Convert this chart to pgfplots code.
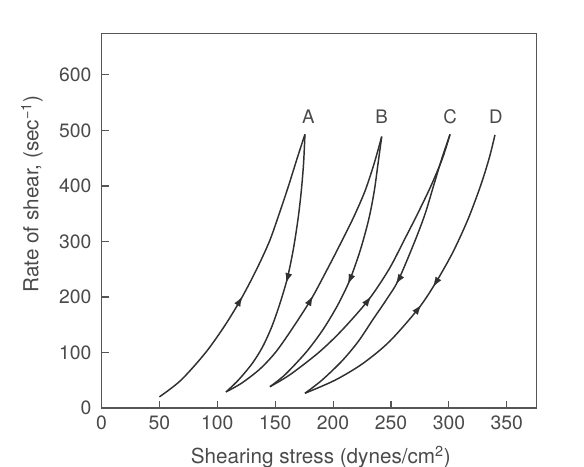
\documentclass[border=0pt]{standalone}
\usepackage{pgfplots}
\pgfplotsset{compat=1.18}
\usetikzlibrary{arrows.meta}
\usepackage{fontspec}
\setmainfont{TeX Gyre Heros}
\definecolor{txt}{HTML}{4A4A4A}
\definecolor{ln}{HTML}{303030}
\definecolor{ax}{HTML}{555555}
\begin{document}
\begin{tikzpicture}
\begin{axis}[
  scale only axis, width=326.4pt, height=281pt,
  xmin=0, xmax=375.8, ymin=0, ymax=675,
  clip=false,
  axis line style={ax, line width=0.9pt},
  tick style={ax, line width=0.8pt},
  xtick={0,50,...,350}, ytick={0,100,...,600},
  xtick pos=bottom, ytick pos=left,
  tick align=inside, major tick length=5.5pt,
  /pgf/number format/assume math mode=true,
  tick label style={text=txt, font=\fontsize{14.5}{17}\selectfont},
  yticklabel style={anchor=east, inner sep=0pt, xshift=-7.3pt},
  xticklabel style={anchor=north, inner sep=0pt, yshift=-5.6pt},
  label style={text=txt, font=\fontsize{15.5}{18}\selectfont},
  xlabel={Shearing stress (dynes/cm\textsuperscript{2})},
  ylabel={Rate of shear, (sec\textsuperscript{−1})},
  xlabel style={at={(axis description cs:0.504,-0.147)}, anchor=base},
  ylabel style={at={(axis description cs:-0.160,0.571)}, anchor=center},
  curve/.style={ln, line width=1.1pt, smooth},
  arr/.style={ln, line width=0.1pt, -{Latex[length=7pt,width=5pt]}},
]
% A up
\addplot[curve] coordinates {(50,20) (68.6,50) (90,100) (107,150) (121.5,200) (134,250) (145,300) (153.5,350) (161.5,400) (169,450) (175.7,493)};
% A down
\addplot[curve] coordinates {(175.7,493) (174.5,440) (172.5,390) (169.7,340) (165.6,285) (160.3,232) (153.6,185) (146.8,145) (139.1,110) (130.1,80) (118.1,50) (107.6,29)};
% B up
\addplot[curve] coordinates {(107.6,29) (121.2,45) (136.7,70) (150.2,100) (163.8,140) (180.8,195) (192.5,240) (203.7,285) (216.9,340) (227.4,390) (235.4,440) (242,489)};
% B down
\addplot[curve] coordinates {(242,489) (238.8,440) (235.5,390) (230.8,340) (223.6,285) (214.3,230) (203.9,185) (190.9,140) (176.5,100) (158.5,60) (145.5,38.4)};
% C up
\addplot[curve] coordinates {(145.5,38.4) (162.8,60) (187.6,100) (207.6,140) (230.7,195) (248.3,250) (260.8,300) (273,350) (284.5,400) (294.5,450) (301,493)};
% C down
\addplot[curve] coordinates {(301,493) (294,450) (287,402) (279.5,350) (270.5,300) (256.3,230) (246,195) (234.6,160) (221.8,120) (207.8,85) (190.3,50) (175.7,26.5)};
% D (up and down)
\addplot[curve] coordinates {(175.7,26.5) (201.6,50) (225.6,80) (248.8,120) (274,180) (288.4,225) (303.3,280) (316.5,340) (327.3,400) (334.8,450) (339.8,492)};
% arrow heads (tail -> tip)
\addplot[arr] coordinates {(118.6,190) (121.5,200)};
\addplot[arr] coordinates {(160.9,236) (159.5,226)};
\addplot[arr] coordinates {(179.7,191) (182.4,201)};
\addplot[arr] coordinates {(215.1,234) (213.1,224)};
\addplot[arr] coordinates {(229.2,191) (232.5,200)};
\addplot[arr] coordinates {(257.5,234) (254.5,224)};
\addplot[arr] coordinates {(272.5,176) (275.9,185)};
\addplot[arr] coordinates {(289.6,229) (286.6,219)};
% labels
\node[text=txt, font=\fontsize{14}{16}\selectfont] at (axis cs:178.6,524) {A};
\node[text=txt, font=\fontsize{14}{16}\selectfont] at (axis cs:242,524) {B};
\node[text=txt, font=\fontsize{14}{16}\selectfont] at (axis cs:301,524) {C};
\node[text=txt, font=\fontsize{14}{16}\selectfont] at (axis cs:340.6,524) {D};
\end{axis}
\pgfresetboundingbox
\useasboundingbox ([xshift=-76.1pt,yshift=-44.25pt]current axis.south west) rectangle ([xshift=35.5pt,yshift=25pt]current axis.north east);
\end{tikzpicture}
\end{document}
